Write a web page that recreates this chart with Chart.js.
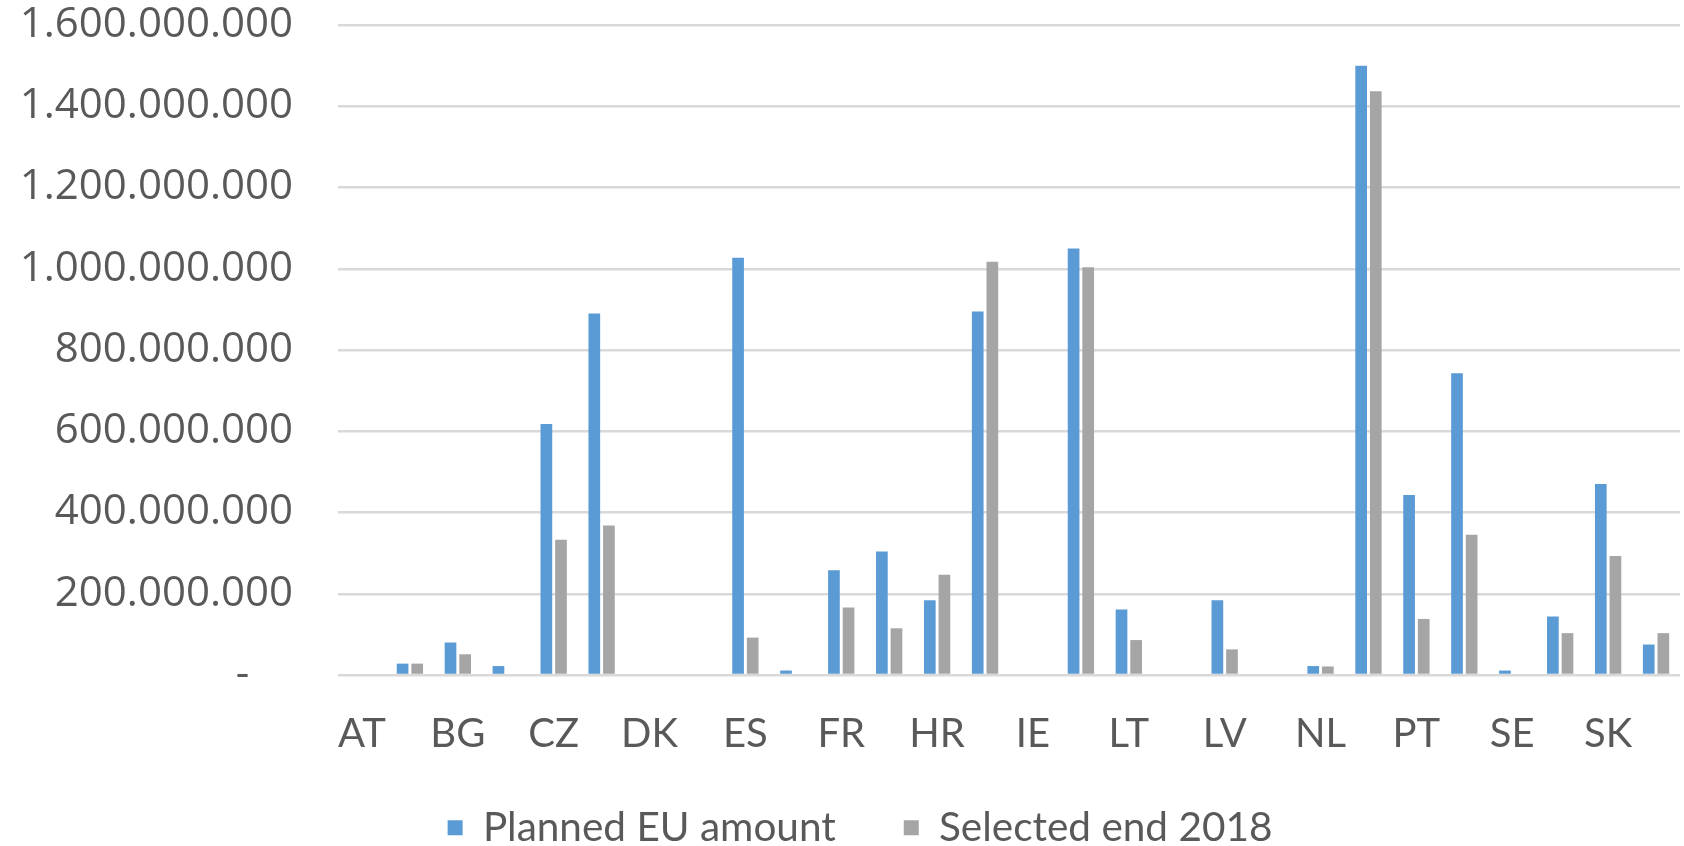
<!DOCTYPE html>
<html>
<head>
<meta charset="utf-8">
<script src="https://cdn.jsdelivr.net/npm/chart.js@4.4.1/dist/chart.umd.min.js"></script>
<style>
html,body{margin:0;padding:0;background:#ffffff;}
#wrap{width:1684px;height:846px;position:relative;}
</style>
</head>
<body>
<div id="wrap"><canvas id="c" width="1684" height="846"></canvas></div>
<script>
const countries = ["AT","BE","BG","CY","CZ","DE","DK","EE","ES","FI","FR","GR","HR","HU","IE","IT","LT","LU","LV","MT","NL","PL","PT","RO","SE","SI","SK","UK"];
const plannedEU = [0,28e6,80e6,22e6,618e6,890e6,0,0,1027e6,11e6,258e6,304e6,184e6,895e6,0,1050e6,161e6,0,184e6,0,22e6,1500e6,443e6,743e6,11e6,144e6,470e6,75e6];
const selectedEnd2018 = [0,28e6,51e6,0,333e6,368e6,0,0,92e6,0,166e6,115e6,247e6,1017e6,0,1004e6,86e6,0,63e6,0,21e6,1437e6,138e6,345e6,0,103e6,293e6,103e6];
const seriesNames = ["Planned EU amount","Selected end 2018"];
const yMax = 1600000000;
const yStep = 200000000;

function fmt(v){
  if (v === 0) return "-    ";
  return String(Math.round(v)).replace(/\B(?=(\d{3})+(?!\d))/g, ".");
}

const txt = "#595959";
const narrowFont = "Lato, 'Liberation Sans', sans-serif";

const legendShift = {
  id: "legendShift",
  afterLayout: function(chart){
    if (chart.legend) { chart.legend.left += 20; chart.legend.right += 20; }
  }
};

new Chart(document.getElementById("c"), {
  type: "bar",
  data: {
    labels: countries,
    datasets: [
      {label: seriesNames[0], data: plannedEU, backgroundColor: "#5b9bd5", borderWidth: 0,
       categoryPercentage: 0.61, barPercentage: 0.8},
      {label: seriesNames[1], data: selectedEnd2018, backgroundColor: "#a5a5a5", borderWidth: 0,
       categoryPercentage: 0.61, barPercentage: 0.8}
    ]
  },
  plugins: [legendShift],
  options: {
    responsive: false,
    animation: false,
    layout: {padding: {left: 0, right: 4, top: 0, bottom: -12}},
    plugins: {
      legend: {
        display: true,
        position: "bottom",
        labels: {
          color: txt,
          font: {family: narrowFont, size: 40.5},
          boxWidth: 15, boxHeight: 15, padding: 68
        }
      },
      tooltip: {enabled: false}
    },
    scales: {
      x: {
        grid: {display: false, drawTicks: false},
        border: {display: false},
        ticks: {
          autoSkip: false, maxRotation: 0, minRotation: 0, padding: 35, color: txt,
          font: {family: narrowFont, size: 40},
          callback: function(v, i){ return i % 2 === 0 ? countries[i] : ""; }
        },
        afterFit: function(s){
          s.height = 64.5;
          s.paddingLeft = 0;
          s.paddingRight = 0;
          s._computeLabelArea = function(){ return undefined; };
        }
      },
      y: {
        min: 0, max: yMax,
        grid: {color: "#d9d9d9", lineWidth: 2.5, drawTicks: false},
        border: {display: false},
        ticks: {
          stepSize: yStep, padding: 45, color: txt,
          font: {family: "'Open Sans',sans-serif", size: 42},
          callback: function(v){ return fmt(v); }
        },
        afterFit: function(s){
          s.width = 338;
          s.paddingTop = 25;
          s.paddingBottom = 25;
        }
      }
    }
  }
});
</script>
</body>
</html>
